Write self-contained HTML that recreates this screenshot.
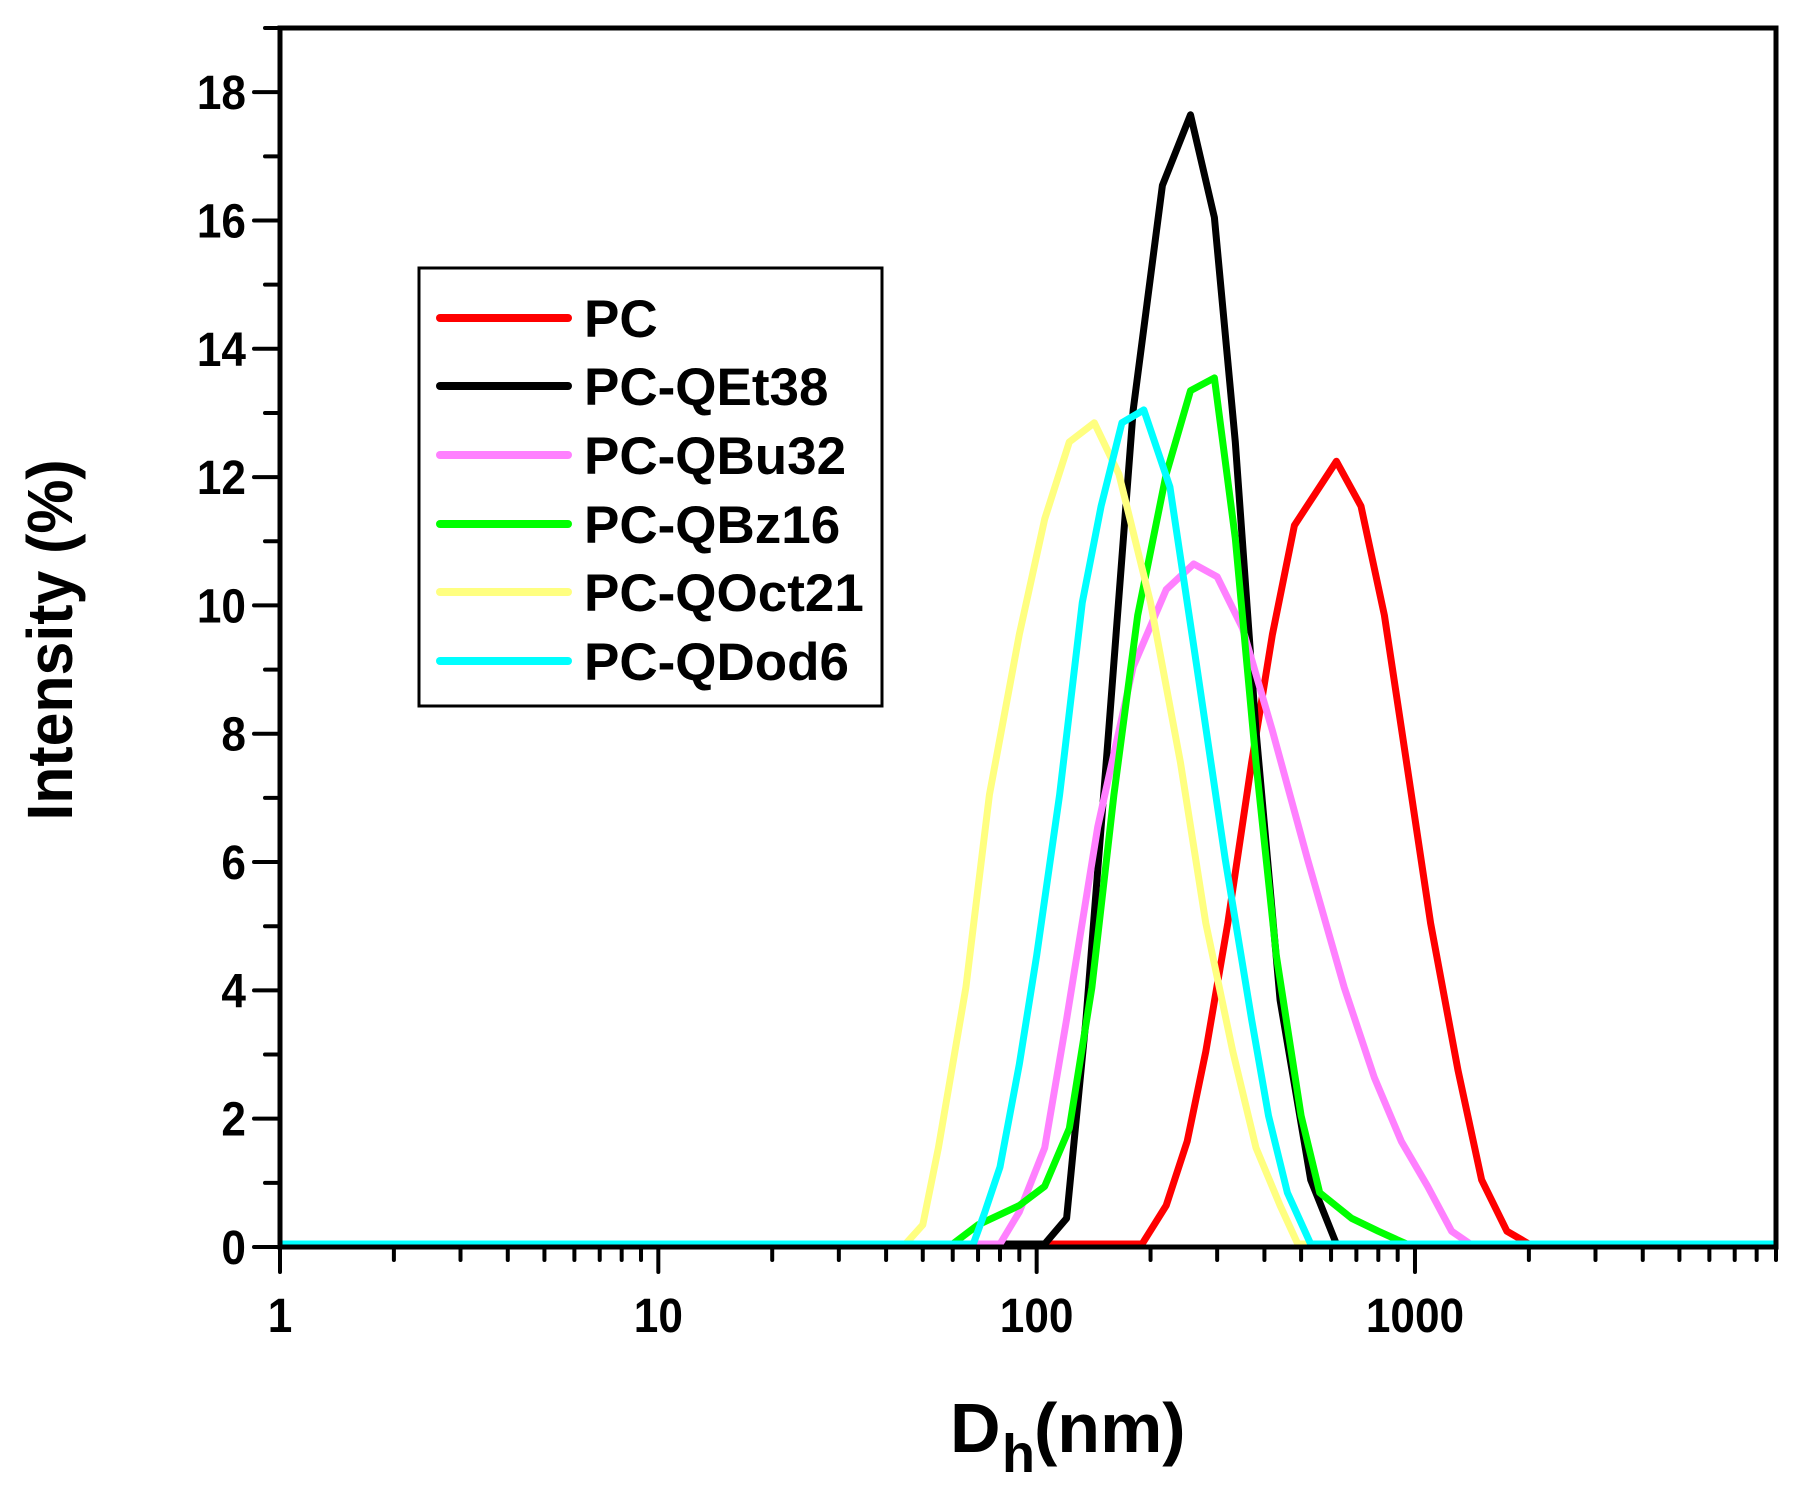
<!DOCTYPE html>
<html><head><meta charset="utf-8"><style>
html,body{margin:0;padding:0;background:#fff;}
svg{display:block;}
text{font-family:"Liberation Sans",Arial,sans-serif;font-weight:bold;fill:#000;}
</style></head><body>
<svg id="s" width="1808" height="1488" viewBox="0 0 1808 1488" xmlns="http://www.w3.org/2000/svg">
<g id="curves" fill="none" stroke-width="7" stroke-linejoin="round"></g>
<g id="axes" stroke="#000" fill="none" stroke-linecap="round"></g>
<g id="lbl" font-size="48" transform="scale(0.92,1)"></g>
<text x="0" y="0" font-size="64" text-anchor="middle" transform="translate(72,640) rotate(-90) scale(0.95,1)">Intensity (%)</text>
<text x="950" y="1452" font-size="70">D</text>
<text x="1002" y="1472" font-size="54">h</text>
<text x="1034" y="1452" font-size="70">(nm)</text>
<rect x="419" y="268" width="463" height="438" fill="#fff" stroke="#000" stroke-width="3"/>
<g stroke-width="8" stroke-linecap="round">
<line x1="440" y1="318" x2="568" y2="318" stroke="#ff0000"/>
<line x1="440" y1="386" x2="568" y2="386" stroke="#000"/>
<line x1="440" y1="455" x2="568" y2="455" stroke="#ff80ff"/>
<line x1="440" y1="524" x2="568" y2="524" stroke="#00ff00"/>
<line x1="440" y1="592" x2="568" y2="592" stroke="#ffff80"/>
<line x1="440" y1="661" x2="568" y2="661" stroke="#00ffff"/>
</g>
<g font-size="53">
<text x="584" y="337">PC</text>
<text x="584" y="405">PC-QEt38</text>
<text x="584" y="474">PC-QBu32</text>
<text x="584" y="543">PC-QBz16</text>
<text x="584" y="611">PC-QOct21</text>
<text x="584" y="680">PC-QDod6</text>
</g>
</svg>
<script>
var L=280,R=1776,T=28,B=1247,D=(R-L)/Math.log10(9000),U=(B-T)/19;
function X(v){return L+Math.log10(v)*D;}function Y(v){return B-3-v*U;}
var ns="http://www.w3.org/2000/svg";
function el(p,t,a){var e=document.createElementNS(ns,t);for(var k in a)e.setAttribute(k,a[k]);document.getElementById(p).appendChild(e);return e;}
var data=[
["#ff0000",[[190,0],[220,0.6],[250,1.6],[280,3],[320,5],[370,7.5],[420,9.5],[480,11.2],[620,12.2],[720,11.5],[830,9.8],[950,7.5],[1100,5],[1300,2.7],[1500,1],[1750,0.2],[2000,0]]],
["#000000",[[105,0],[120,0.4],[135,3.5],[155,8],[180,13],[215,16.5],[255,17.6],[295,16],[335,12.5],[380,8],[440,3.8],[530,1],[620,0]]],
["#ff80ff",[[80,0],[90,0.5],[105,1.5],[120,3.5],[145,6.5],[180,9],[220,10.2],[260,10.6],[300,10.4],[350,9.6],[420,8],[520,6],[650,4],[780,2.6],[920,1.6],[1080,0.9],[1250,0.2],[1400,0]]],
["#00ff00",[[60,0],[70,0.3],[90,0.6],[105,0.9],[122,1.8],[140,4],[160,7],[185,9.8],[220,12],[255,13.3],[295,13.5],[335,11],[380,7.5],[430,4.5],[500,2],[560,0.8],[680,0.4],[800,0.2],[950,0]]],
["#ffff80",[[45,0],[50,0.3],[55,1.5],[65,4],[75,7],[90,9.5],[105,11.3],[122,12.5],[142,12.8],[165,12],[200,10],[240,7.5],[280,5],[330,3],[380,1.5],[440,0.6],[490,0]]],
["#00ffff",[[68,0],[73,0.5],[80,1.2],[90,2.8],[100,4.5],[115,7],[132,10],[148,11.5],[168,12.8],[192,13],[225,11.8],[265,9],[315,6],[370,3.5],[410,2],[460,0.8],[530,0]]]];
data.forEach(function(s){var p=[[1,0]].concat(s[1]).concat([[9000,0]]);
var d=p.map(function(q,i){return (i?"L":"M")+X(q[0]).toFixed(1)+" "+Y(q[1]).toFixed(1);}).join(" ");
el("curves","path",{d:d,stroke:s[0]});});
el("axes","rect",{x:L,y:T,width:R-L,height:B-T,"stroke-width":5});
var S=0.92;
for(var v=0;v<=19;v++){var y=B-v*U;var maj=v%2==0;el("axes","line",{x1:L,y1:y,x2:L-(maj?26:15),y2:y,"stroke-width":4});
if(maj){var t=el("lbl","text",{x:246/S,y:y+17,"text-anchor":"end"});t.textContent=v;}}
for(var e=0;e<4;e++){for(var m=1;m<=9;m++){var val=m*Math.pow(10,e);if(val>9000)break;var x=X(val);
el("axes","line",{x1:x,y1:B,x2:x,y2:B+(m==1?25:13),"stroke-width":4});
if(m==1){var t=el("lbl","text",{x:x/S,y:1332,"text-anchor":"middle"});t.textContent=val;}}}
</script>
</body></html>
